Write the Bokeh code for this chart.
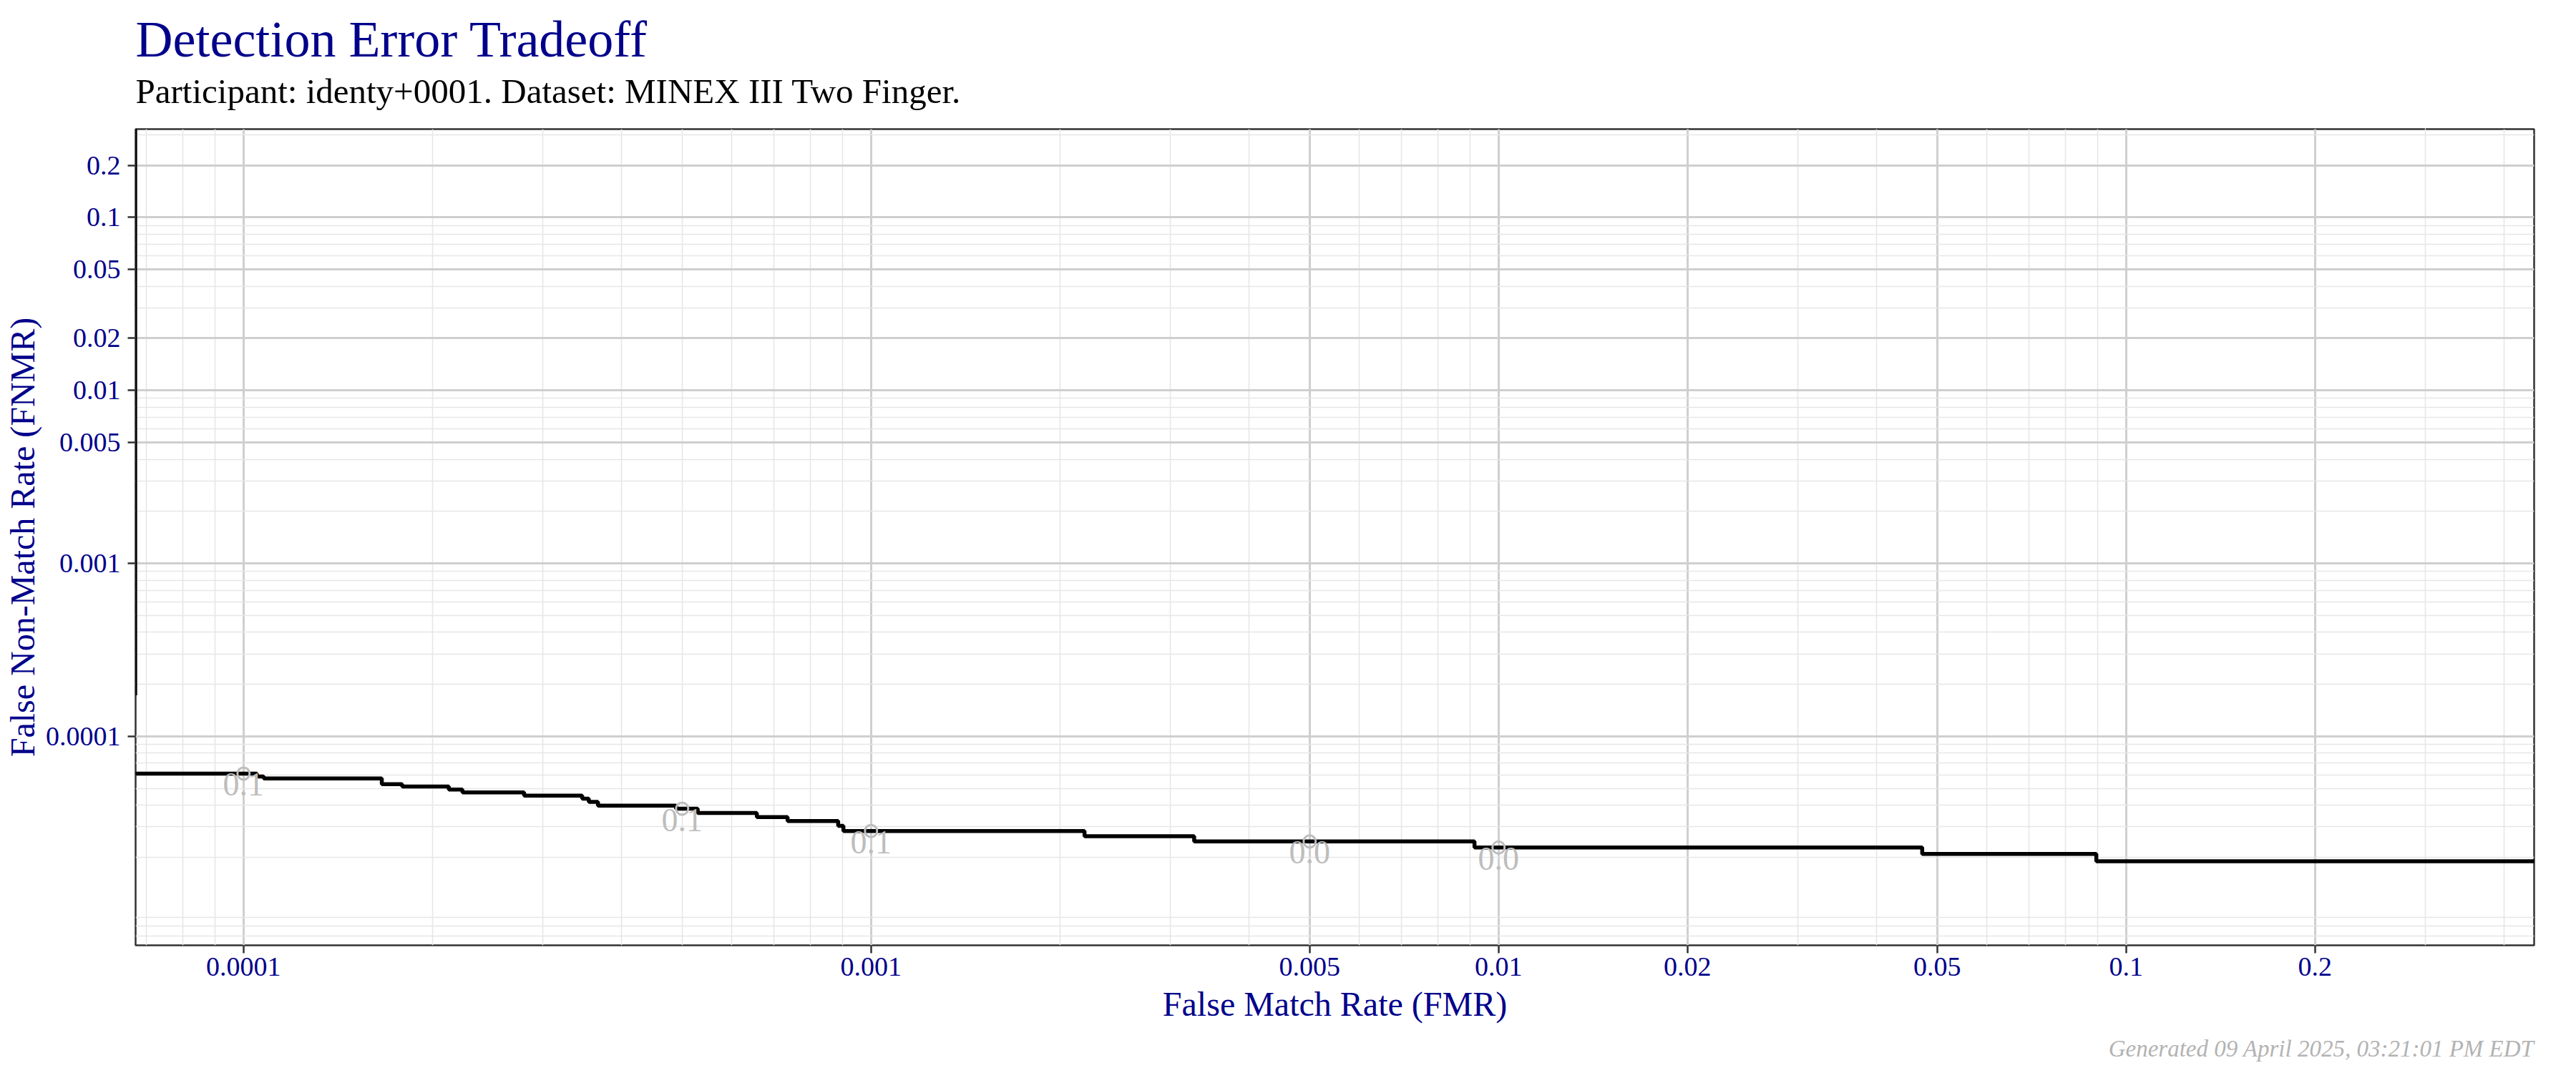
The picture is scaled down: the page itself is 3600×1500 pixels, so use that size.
from bokeh.plotting import figure
from bokeh.models import Range1d, FixedTicker, CustomJSTickFormatter, Title, LogAxis
from bokeh.embed import file_html
from bokeh.resources import INLINE

# DET curve (step function, FMR where each level starts)
fmr = [6.72e-5, 1.05e-4, 1.077e-4, 1.661e-4, 1.79e-4, 2.124e-4, 2.233e-4, 2.80e-4,
       3.465e-4, 3.55e-4, 3.672e-4, 4.889e-4, 5.294e-4, 6.577e-4, 7.362e-4, 8.864e-4,
       9.036e-4, 2.189e-3, 3.273e-3, 9.155e-3, 4.733e-2, 8.966e-2, 0.45]
fnmr = [6.10e-5, 5.87e-5, 5.72e-5, 5.30e-5, 5.13e-5, 4.93e-5, 4.745e-5, 4.55e-5,
        4.37e-5, 4.18e-5, 3.98e-5, 3.82e-5, 3.61e-5, 3.42e-5, 3.24e-5, 3.04e-5,
        2.84e-5, 2.65e-5, 2.47e-5, 2.28e-5, 2.09e-5, 1.90e-5, 1.90e-5]

# part of the curve running up the left edge
edge_fmr = [6.72e-5, 6.72e-5]
edge_fnmr = [1.0, 1.73e-4]

# threshold markers
thr_fmr = [1e-4, 5e-4, 1e-3, 5e-3, 1e-2]
thr_fnmr = [6.10e-5, 3.82e-5, 2.84e-5, 2.47e-5, 2.28e-5]
thr_labels = ["0.1", "0.1", "0.1", "0.0", "0.0"]

x_ticks = [0.0001, 0.001, 0.005, 0.01, 0.02, 0.05, 0.1, 0.2]
y_ticks = [0.0001, 0.001, 0.005, 0.01, 0.02, 0.05, 0.1, 0.2]
minor = [m * 10.0 ** k for k in range(-6, 0) for m in range(2, 10)]

title = "Detection Error Tradeoff"
subtitle = "Participant: identy+0001. Dataset: MINEX III Two Finger."
caption = "Generated 09 April 2025, 03:21:01 PM EDT"

FONT = "Liberation Serif"
BLUE = "#00008B"

p = figure(width=3590, height=1499, x_axis_type="log", y_axis_type="log",
           x_range=Range1d(6.73e-5, 0.447), y_range=Range1d(6.2e-6, 0.324),
           output_backend="svg", toolbar_location=None,
           min_border_left=189, min_border_right=49, min_border_top=180, min_border_bottom=178)
p.outline_line_color = "#333333"
p.outline_line_width = 2.5

p.xaxis.ticker = FixedTicker(ticks=x_ticks, minor_ticks=minor)
p.yaxis.ticker = FixedTicker(ticks=y_ticks, minor_ticks=minor)
fmt = CustomJSTickFormatter(code="return tick.toString();")
p.xaxis.formatter = fmt
p.yaxis.formatter = fmt

for ax in (p.xaxis, p.yaxis):
    ax.axis_line_color = None
    ax.major_tick_line_color = "#333333"
    ax.major_tick_line_width = 2.5
    ax.major_tick_out = 11
    ax.major_tick_in = 0
    ax.minor_tick_line_color = None
    ax.major_label_text_font = FONT
    ax.major_label_text_font_size = "38px"
    ax.major_label_text_color = BLUE
    ax.axis_label_text_font = FONT
    ax.axis_label_text_font_size = "48px"
    ax.axis_label_text_font_style = "normal"
    ax.axis_label_text_color = BLUE

p.xaxis.axis_label = "False Match Rate (FMR)"
p.yaxis.axis_label = "False Non-Match Rate (FNMR)"
p.xaxis.major_label_standoff = 6
p.yaxis.major_label_standoff = 10
p.xaxis.axis_label_standoff = 10
p.yaxis.axis_label_standoff = 3

for g in (p.xgrid, p.ygrid):
    g.grid_line_color = "#cfcfcf"
    g.grid_line_width = 3
    g.minor_grid_line_color = "#e6e6e6"
    g.minor_grid_line_width = 1.6

p.step(fmr, fnmr, mode="after", line_color="black", line_width=5.5)
p.line(edge_fmr, edge_fnmr, line_color="black", line_width=5.5)

p.scatter(thr_fmr, thr_fnmr, marker="circle", size=17, fill_color=None,
          line_color="#bdbdbd", line_width=3)
p.text(thr_fmr, thr_fnmr, text=thr_labels, text_align="center", text_baseline="top",
       y_offset=0, text_color="#bdbdbd", text_font_size="46px", text_font={"value": FONT})

# above panel stacks outward from the frame: blank spacer axis, subtitle, title
spacer = LogAxis(ticker=FixedTicker(ticks=[0.3]), axis_line_color=None,
                 major_tick_line_color="white", minor_tick_line_color=None,
                 major_tick_in=0, major_tick_out=26, major_label_standoff=0,
                 major_label_text_font_size="1px",
                 formatter=CustomJSTickFormatter(code="return '';"),
                 axis_label_standoff=0)
p.add_layout(spacer, "above")
p.add_layout(Title(text=subtitle, align="left", text_font=FONT, text_font_size="49px",
                   text_font_style="normal", text_color="black", standoff=0), "above")
p.add_layout(Title(text=title, align="left", text_font=FONT, text_font_size="72px",
                   text_font_style="normal", text_color=BLUE, standoff=6), "above")
p.add_layout(Title(text=caption, align="right", text_font=FONT, text_font_size="33px",
                   text_font_style="italic", text_color="#b3b3b3", standoff=27), "below")

open("out.html", "w").write(file_html(p, INLINE))
